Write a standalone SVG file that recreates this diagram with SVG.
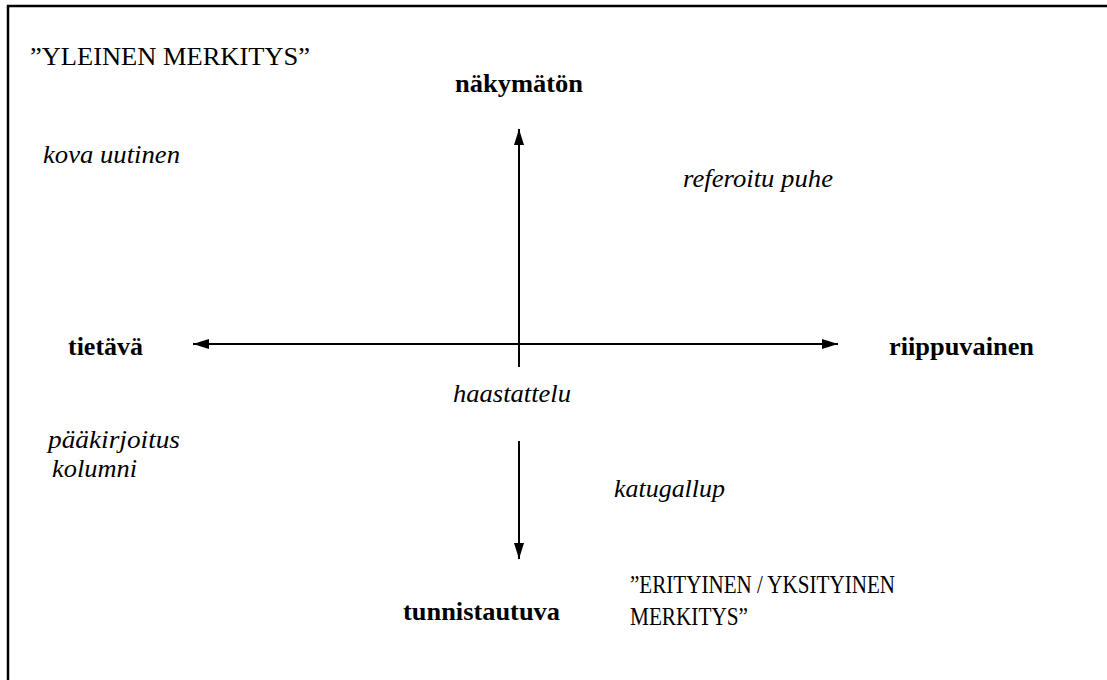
<svg xmlns="http://www.w3.org/2000/svg" width="1107" height="680" viewBox="0 0 1107 680">
<defs>
<style>
.t{font-family:'Liberation Serif','Times New Roman',serif;font-size:26px;fill:#000}
.b{font-weight:bold}
.i{font-style:italic}
.ax{stroke:#000;stroke-width:2;fill:none}
</style>
<marker id="ah" viewBox="0 0 16 10" refX="16" refY="5" markerWidth="16" markerHeight="10" markerUnits="userSpaceOnUse" orient="auto">
<path d="M0,0 L16,5 L0,10 Z" fill="#000"/>
</marker>
</defs>
<rect width="1107" height="680" fill="#fff"/>
<path d="M8,680 V6 H1107" stroke="#000" stroke-width="2.5" fill="none"/>
<g id="connectors">
<line class="ax" x1="519" y1="367" x2="519" y2="129" marker-end="url(#ah)"/>
<line class="ax" x1="519" y1="441" x2="519" y2="559" marker-end="url(#ah)"/>
<line class="ax" x1="516" y1="344" x2="193" y2="344" marker-end="url(#ah)"/>
<line class="ax" x1="516" y1="344" x2="838" y2="344" marker-end="url(#ah)"/>
</g>
<g id="yleinen"><text class="t" x="30" y="65" textLength="280" lengthAdjust="spacingAndGlyphs">”YLEINEN MERKITYS”</text></g>
<g id="nakymaton"><text class="t b" x="455" y="92" textLength="128" lengthAdjust="spacingAndGlyphs">näkymätön</text></g>
<g id="kova"><text class="t i" x="43" y="163" textLength="137" lengthAdjust="spacingAndGlyphs">kova uutinen</text></g>
<g id="referoitu"><text class="t i" x="683" y="187" textLength="150" lengthAdjust="spacingAndGlyphs">referoitu puhe</text></g>
<g id="tietava"><text class="t b" x="68" y="355" textLength="75" lengthAdjust="spacingAndGlyphs">tietävä</text></g>
<g id="riippuvainen"><text class="t b" x="889" y="355" textLength="145" lengthAdjust="spacingAndGlyphs">riippuvainen</text></g>
<g id="haastattelu"><text class="t i" x="453" y="402" textLength="118" lengthAdjust="spacingAndGlyphs">haastattelu</text></g>
<g id="paakirjoitus"><text class="t i" x="48" y="448" textLength="132" lengthAdjust="spacingAndGlyphs">pääkirjoitus</text><text class="t i" x="52" y="477" textLength="85" lengthAdjust="spacingAndGlyphs">kolumni</text></g>
<g id="katugallup"><text class="t i" x="614" y="497" textLength="111" lengthAdjust="spacingAndGlyphs">katugallup</text></g>
<g id="tunnistautuva"><text class="t b" x="403" y="620" textLength="157" lengthAdjust="spacingAndGlyphs">tunnistautuva</text></g>
<g id="erityinen"><text class="t" x="630" y="593" textLength="265" lengthAdjust="spacingAndGlyphs">”ERITYINEN / YKSITYINEN</text><text class="t" x="630" y="625" textLength="118" lengthAdjust="spacingAndGlyphs">MERKITYS”</text></g>
</svg>
